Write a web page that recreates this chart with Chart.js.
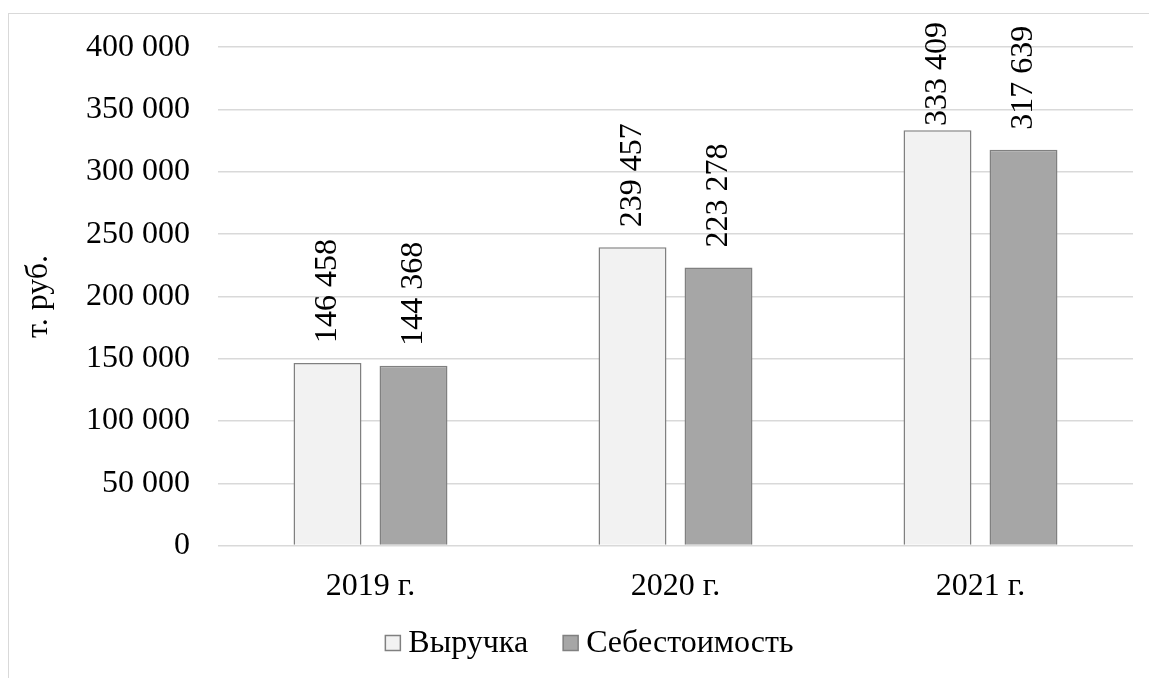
<!DOCTYPE html>
<html>
<head>
<meta charset="utf-8">
<script src="https://cdn.jsdelivr.net/npm/chart.js@4"></script>
<style>
    body { margin: 0; background: #fff; }
    #frame { position: absolute; left: 8px; top: 13px; width: 1200px; height: 700px;
             border-left: 1px solid #d9d9d9; border-top: 1px solid #d9d9d9; }
    #wrap { position: absolute; left: 0; top: 0; width: 1149px; height: 678px; }
</style>
</head>
<body>
<div id="frame"></div>
<div id="wrap"><canvas id="salesChart"></canvas></div>
<script>
    const years = ['2019 г.', '2020 г.', '2021 г.'];
    const revenue = [146458, 239457, 333409];
    const cost = [144368, 223278, 317639];
    const yTicks = [0, 50000, 100000, 150000, 200000, 250000, 300000, 350000, 400000];

    const fmt = v => String(v).replace(/\B(?=(\d{3})+(?!\d))/g, ' ');
    const FONT = 'Liberation Serif, Times New Roman, serif';
    const SIZE = 32;

    // value labels standing upright above each bar
    const barLabels = {
        id: 'barLabels',
        afterDatasetsDraw(chart) {
            const ctx = chart.ctx;
            ctx.save();
            ctx.font = SIZE + 'px ' + FONT;
            ctx.fillStyle = '#000';
            ctx.textAlign = 'left';
            ctx.textBaseline = 'middle';
            chart.data.datasets.forEach((ds, i) => {
                chart.getDatasetMeta(i).data.forEach((bar, j) => {
                    const txt = fmt(ds.data[j]);
                    const w = ctx.measureText(txt).width;
                    let y = bar.y - 20;
                    if (y - w < 22) y = 22 + w;
                    ctx.save();
                    ctx.translate(bar.x, y);
                    ctx.rotate(-Math.PI / 2);
                    ctx.fillText(txt, 0, 0);
                    ctx.restore();
                });
            });
            ctx.restore();
        }
    };

    // legend row under the axis, Excel-like spacing
    const bottomLegend = {
        id: 'bottomLegend',
        afterDraw(chart) {
            const ctx = chart.ctx;
            const box = 15, gap = 8, between = 35, cy = 643;
            ctx.save();
            ctx.font = SIZE + 'px ' + FONT;
            ctx.textBaseline = 'middle';
            const items = chart.data.datasets.map(ds => ({ ds, w: ctx.measureText(ds.label).width }));
            const total = items.reduce((s, it) => s + box + gap + it.w, 0) + between * (items.length - 1);
            let x = (chart.width - total) / 2 + 15;
            items.forEach(it => {
                ctx.fillStyle = it.ds.backgroundColor;
                ctx.strokeStyle = it.ds.borderColor;
                ctx.lineWidth = 1.5;
                ctx.fillRect(x, cy - box / 2, box, box);
                ctx.strokeRect(x, cy - box / 2, box, box);
                ctx.fillStyle = '#000';
                ctx.fillText(it.ds.label, x + box + gap, cy + 1);
                x += box + gap + it.w + between;
            });
            ctx.restore();
        }
    };

    new Chart(document.getElementById('salesChart'), {
        type: 'bar',
        data: {
            labels: years,
            datasets: [
                { label: 'Выручка', data: revenue, backgroundColor: '#f2f2f2', borderColor: '#808080', borderWidth: 1.5 },
                { label: 'Себестоимость', data: cost, backgroundColor: '#a6a6a6', borderColor: '#808080', borderWidth: 1.5 }
            ]
        },
        options: {
            responsive: true,
            maintainAspectRatio: false,
            animation: false,
            datasets: { bar: { categoryPercentage: 0.564, barPercentage: 0.79 } },
            layout: { padding: { top: 26, right: 16, bottom: 58, left: 15 } },
            plugins: {
                legend: { display: false },
                tooltip: { enabled: false }
            },
            scales: {
                x: {
                    grid: { display: false },
                    border: { display: false },
                    ticks: { color: '#000', font: { family: FONT, size: SIZE }, padding: 14 }
                },
                y: {
                    min: 0,
                    max: 400000,
                    afterBuildTicks: s => { s.ticks = yTicks.map(v => ({ value: v })); },
                    afterFit: s => { s.width = 203; },
                    grid: { color: '#d9d9d9', lineWidth: 1.5, drawTicks: false },
                    border: { display: false },
                    ticks: { color: '#000', font: { family: FONT, size: SIZE }, padding: 28, callback: v => fmt(v) },
                    title: { display: true, text: 'т. руб.', color: '#000', font: { family: FONT, size: SIZE } }
                }
            }
        },
        plugins: [barLabels, bottomLegend]
    });
</script>
</body>
</html>
